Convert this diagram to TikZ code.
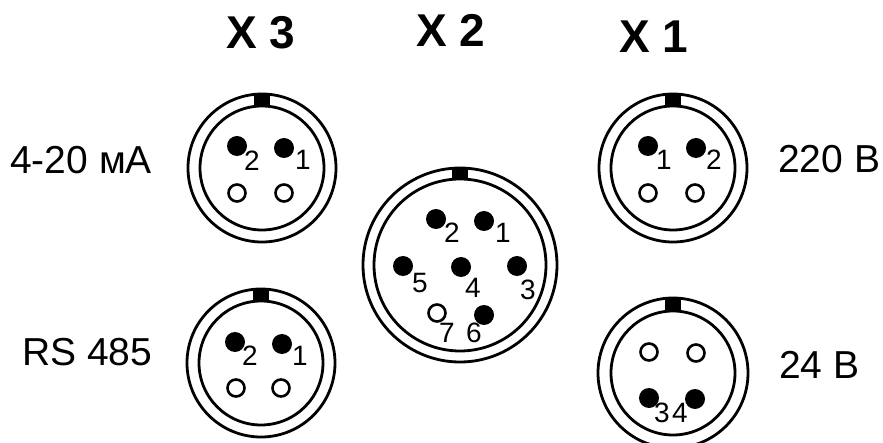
\documentclass[tikz,border=0pt]{standalone}
\usepackage{fontspec}
\setmainfont{Liberation Sans}
\tikzset{
  x=1pt,y=-1pt,
  ring/.style={draw=black,line width=2.8pt,fill=none},
  keyblock/.style={fill=black,draw=none},
  pinon/.style={circle,fill=black,draw=none,minimum size=20pt,inner sep=0pt},
  pinoff/.style={circle,fill=white,draw=black,line width=2.6pt,minimum size=17pt,inner sep=0pt},
  num/.style={font=\fontsize{28}{28}\selectfont,inner sep=0pt,text=black},
  sig/.style={font=\fontsize{39}{39}\selectfont,inner sep=0pt,text=black},
  ttl/.style={font=\fontsize{46}{46}\bfseries\selectfont,inner sep=0pt},
}
\newcommand{\shell}[4]{% cx, cy, outer r, inner r
  \draw[ring] (#1,#2) circle[radius=#3];
  \draw[ring] (#1,#2) circle[radius=#4];
  \fill[keyblock] (#1-8,#2-#3-1) rectangle (#1+8,#2-#4+1);
}
\begin{document}
\begin{tikzpicture}
\useasboundingbox (0,0) rectangle (883,443);
% titles
\node[ttl] (tX3) at (261,33) {X 3};
\node[ttl] (tX2) at (451,30) {X 2};
\node[ttl] (tX1) at (654,37) {X 1};
% side labels
\node[sig,anchor=west] (l1) at (10,160) {4-20 мА};
\node[sig,anchor=west] (l2) at (22,352) {RS 485};
\node[sig,anchor=west] (l3) at (778,159) {220 В};
\node[sig,anchor=west] (l4) at (779,365) {24 В};
% X3 top
\shell{262}{168}{74}{62}
\node[pinon] (a1) at (284,148) {};
\node[pinon] (a2) at (237,146) {};
\node[pinoff] (a3) at (237,193) {};
\node[pinoff] (a4) at (284,193) {};
\node[num] (a5) at (252,161) {2};
\node[num] (a6) at (303,160) {1};
% X3 bottom
\shell{261}{363}{74}{62}
\node[pinon] (b1) at (282,344) {};
\node[pinon] (b2) at (235,342) {};
\node[pinoff] (b3) at (236,388) {};
\node[pinoff] (b4) at (281,388) {};
\node[num] (b5) at (250,356) {2};
\node[num] (b6) at (300,356) {1};
% X1 top
\shell{673}{168}{74}{62}
\node[pinon] (c1) at (648,146) {};
\node[pinon] (c2) at (696,148) {};
\node[pinoff] (c3) at (648,193) {};
\node[pinoff] (c4) at (695,193) {};
\node[num] (c5) at (664,160) {1};
\node[num] (c6) at (714,160) {2};
% X1 bottom
\shell{673}{373}{75}{62}
\node[pinoff] (d1) at (649,352) {};
\node[pinoff] (d2) at (696,353) {};
\node[pinon] (d3) at (649,398) {};
\node[pinon] (d4) at (695,399) {};
\node[num] (d5) at (662,413) {3};
\node[num] (d6) at (680,413) {4};
% X2
\shell{460}{265}{97}{86}
\node[pinon] (e1) at (484,221) {};
\node[pinon] (e2) at (436,219) {};
\node[pinon] (e3) at (517,266) {};
\node[pinon] (e4) at (461,267) {};
\node[pinon] (e5) at (403,266) {};
\node[pinon] (e6) at (484,315) {};
\node[pinoff] (e7) at (437,313) {};
\node[num] (n1) at (503,233) {1};
\node[num] (n2) at (452,233) {2};
\node[num] (n3) at (528,290) {3};
\node[num] (n4) at (473,288) {4};
\node[num] (n5) at (420,283) {5};
\node[num] (n6) at (474,333) {6};
\node[num] (n7) at (447,333) {7};
\end{tikzpicture}
\end{document}
